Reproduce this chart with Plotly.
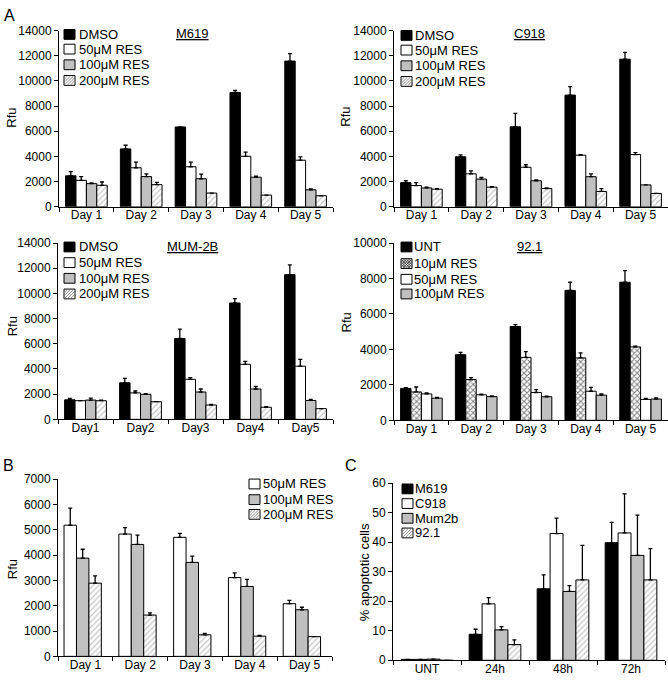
import plotly.graph_objects as go

W, H = 668, 681

# ---------------- data ----------------
days = ["Day 1", "Day 2", "Day 3", "Day 4", "Day 5"]
days_ns = ["Day1", "Day2", "Day3", "Day4", "Day5"]
times = ["UNT", "24h", "48h", "72h"]

# M619
m619_dmso = [2460, 4600, 6340, 9080, 11570]
m619_dmso_err = [340, 290, 0, 160, 590]
m619_50 = [2100, 3100, 3180, 4010, 3700]
m619_50_err = [300, 450, 370, 340, 260]
m619_100 = [1840, 2400, 2230, 2350, 1350]
m619_100_err = [50, 210, 360, 80, 70]
m619_200 = [1710, 1760, 1090, 930, 880]
m619_200_err = [260, 180, 0, 0, 0]

# C918
c918_dmso = [1920, 3970, 6350, 8870, 11720]
c918_dmso_err = [150, 150, 1070, 670, 540]
c918_50 = [1690, 2620, 3140, 4100, 4150]
c918_50_err = [230, 230, 200, 50, 150]
c918_100 = [1500, 2200, 2070, 2390, 1740]
c918_100_err = [60, 130, 60, 230, 0]
c918_200 = [1400, 1560, 1450, 1220, 1060]
c918_200_err = [50, 50, 50, 230, 0]

# MUM-2B
mum_dmso = [1550, 2900, 6420, 9240, 11490]
mum_dmso_err = [110, 360, 750, 340, 780]
mum_50 = [1480, 2100, 3180, 4370, 4220]
mum_50_err = [0, 150, 130, 240, 540]
mum_100 = [1530, 1990, 2170, 2410, 1500]
mum_100_err = [150, 50, 240, 200, 80]
mum_200 = [1480, 1400, 1140, 960, 850]
mum_200_err = [50, 0, 50, 50, 0]

# 92.1
n92_unt = [1800, 3700, 5290, 7330, 7790]
n92_unt_err = [40, 130, 110, 460, 660]
n92_10 = [1600, 2300, 3550, 3520, 4140]
n92_10_err = [280, 110, 320, 290, 40]
n92_50 = [1490, 1440, 1570, 1640, 1180]
n92_50_err = [60, 30, 160, 220, 50]
n92_100 = [1250, 1340, 1330, 1420, 1200]
n92_100_err = [40, 40, 30, 70, 70]

# Panel B
b_50 = [5180, 4830, 4700, 3110, 2080]
b_50_err = [670, 250, 160, 190, 130]
b_100 = [3880, 4420, 3710, 2760, 1840]
b_100_err = [350, 370, 250, 280, 100]
b_200 = [2890, 1630, 850, 800, 780]
b_200_err = [290, 90, 60, 30, 0]

# Panel C (% apoptotic cells)
c_m619 = [0.3, 8.8, 24.2, 39.8]
c_m619_err = [0, 1.7, 4.7, 6.9]
c_c918 = [0.3, 19.1, 42.9, 43.1]
c_c918_err = [0, 2.1, 5.2, 13.2]
c_mum2b = [0.4, 10.3, 23.3, 35.5]
c_mum2b_err = [0, 1.1, 2.0, 13.6]
c_921 = [0.0, 5.3, 27.2, 27.2]
c_921_err = [0, 1.6, 11.7, 10.6]

# ---------------- styles ----------------
FONT = "Liberation Sans, Arial, sans-serif"
GRAY = "#c0c0c0"
STYLES = {
    "black": dict(color="black"),
    "white": dict(color="white"),
    "gray": dict(color=GRAY),
    "hatch": dict(color="white", pattern=dict(shape="/", fgcolor="#7a7a7a", bgcolor="white", size=4, solidity=0.28)),
    "cross": dict(color="white", pattern=dict(shape="x", fgcolor="black", bgcolor="white", size=4, solidity=0.45)),
}


def px(x):
    return x / W


def py(y):
    return 1 - y / H


fig = go.Figure()
shapes = []
annos = []


def add_panel(idx, cats, series, xdom, ydom, yrange, dtick, width, offsets, shift=0.0):
    xa = "x" if idx == 1 else f"x{idx}"
    ya = "y" if idx == 1 else f"y{idx}"
    for (vals, errs, style), off in zip(series, offsets):
        m = dict(STYLES[style])
        m["line"] = dict(color="black", width=1)
        fig.add_trace(go.Bar(
            x=cats, y=vals, xaxis=xa, yaxis=ya,
            width=width, offset=off + shift,
            marker=m, showlegend=False,
            error_y=dict(type="data", array=errs, arrayminus=[0] * len(errs), symmetric=False,
                         color="black", thickness=1.3, width=2),
        ))
    axkey_x = "xaxis" if idx == 1 else f"xaxis{idx}"
    axkey_y = "yaxis" if idx == 1 else f"yaxis{idx}"
    fig.update_layout(**{
        axkey_x: dict(domain=[px(xdom[0]), px(xdom[1])], anchor=ya, type="category",
                      showline=True, linecolor="black", linewidth=1, ticks="outside",
                      tickson="boundaries", ticklen=4, tickcolor="black", showgrid=False,
                      ticklabelstandoff=-3,
                      tickfont=dict(family=FONT, size=12, color="black"), fixedrange=True),
        axkey_y: dict(domain=[py(ydom[1]), py(ydom[0])], anchor=xa, range=yrange, dtick=dtick,
                      tickformat="d",
                      showline=True, linecolor="black", linewidth=1, ticks="outside",
                      ticklen=4, tickcolor="black", showgrid=False, zeroline=False,
                      tickfont=dict(family=FONT, size=12, color="black"), fixedrange=True),
    })


W4 = 0.19
OFF4 = [-0.38, -0.19, 0.0, 0.19]

add_panel(1, days, [(m619_dmso, m619_dmso_err, "black"), (m619_50, m619_50_err, "white"),
                    (m619_100, m619_100_err, "gray"), (m619_200, m619_200_err, "hatch")],
          (59, 333), (24, 204), [0, 14000], 2000, W4, OFF4)
add_panel(2, days, [(c918_dmso, c918_dmso_err, "black"), (c918_50, c918_50_err, "white"),
                    (c918_100, c918_100_err, "gray"), (c918_200, c918_200_err, "hatch")],
          (394, 668), (24, 204), [0, 14000], 2000, W4, OFF4)
add_panel(3, days_ns, [(mum_dmso, mum_dmso_err, "black"), (mum_50, mum_50_err, "white"),
                       (mum_100, mum_100_err, "gray"), (mum_200, mum_200_err, "hatch")],
          (58, 333), (241, 421), [0, 14000], 2000, W4, OFF4)
add_panel(4, days, [(n92_unt, n92_unt_err, "black"), (n92_10, n92_10_err, "cross"),
                    (n92_50, n92_50_err, "white"), (n92_100, n92_100_err, "gray")],
          (394, 668), (241, 422), [0, 10000], 2000, W4, OFF4)
add_panel(5, days, [(b_50, b_50_err, "white"), (b_100, b_100_err, "gray"), (b_200, b_200_err, "hatch")],
          (58, 332), (482, 663), [0, 7000], 1000, 0.227, [-0.39, -0.163, 0.064])
add_panel(6, times, [(c_m619, c_m619_err, "black"), (c_c918, c_c918_err, "white"),
                     (c_mum2b, c_mum2b_err, "gray"), (c_921, c_921_err, "hatch")],
          (393, 665), (486, 667), [0, 60], 10, W4, OFF4)


# ---------------- manual legends ----------------
def diag_lines(x0, y0, x1, y1, step, direction, color, width):
    # x0,y0 top-left ; x1,y1 bottom-right in pixels
    w = x1 - x0
    h = y1 - y0
    c = -h
    out = []
    while c < w:
        us = max(0.0, c)
        ue = min(w, h + c)
        if ue > us:
            pa = (us, us - c)
            pb = (ue, ue - c)
            if direction == "/":
                xa_, ya_ = x0 + pa[0], y1 - pa[1]
                xb_, yb_ = x0 + pb[0], y1 - pb[1]
            else:
                xa_, ya_ = x1 - pa[0], y1 - pa[1]
                xb_, yb_ = x1 - pb[0], y1 - pb[1]
            out.append(dict(type="line", xref="paper", yref="paper",
                            x0=px(xa_), y0=py(ya_), x1=px(xb_), y1=py(yb_),
                            line=dict(color=color, width=width)))
        c += step
    return out


def legend(items, sx, tx, rows, sw=11, sh=10):
    for (label, style), ry in zip(items, rows):
        x0, x1 = sx, sx + sw
        y0, y1 = ry - sh / 2, ry + sh / 2
        fill = {"black": "black", "white": "white", "gray": GRAY, "hatch": "white", "cross": "white"}[style]
        shapes.append(dict(type="rect", xref="paper", yref="paper",
                           x0=px(x0), x1=px(x1), y0=py(y1), y1=py(y0),
                           fillcolor=fill, line=dict(color="black", width=1)))
        if style == "hatch":
            shapes.extend(diag_lines(x0 + 0.5, y0 + 0.5, x1 - 0.5, y1 - 0.5, 3, "/", "#7a7a7a", 0.8))
        if style == "cross":
            shapes.extend(diag_lines(x0 + 0.5, y0 + 0.5, x1 - 0.5, y1 - 0.5, 2.6, "/", "#222", 0.8))
            shapes.extend(diag_lines(x0 + 0.5, y0 + 0.5, x1 - 0.5, y1 - 0.5, 2.6, "\\", "#222", 0.8))
        annos.append(dict(text=label, xref="paper", yref="paper", x=px(tx), y=py(ry),
                          xanchor="left", yanchor="middle", showarrow=False,
                          font=dict(family=FONT, size=13, color="black")))


res_items = [("DMSO", "black"), ("50μM RES", "white"), ("100μM RES", "gray"), ("200μM RES", "hatch")]
legend(res_items, 64, 77, [28, 43, 59, 75])
legend(res_items, 401, 413, [29, 44, 60, 76])
legend(res_items, 64, 77, [245, 261, 277, 293])
legend([("UNT", "black"), ("10μM RES", "cross"), ("50μM RES", "white"), ("100μM RES", "gray")],
       401, 412, [245, 262, 278, 293])
legend([("50μM RES", "white"), ("100μM RES", "gray"), ("200μM RES", "hatch")], 249, 261, [487, 503, 518])
legend([("M619", "black"), ("C918", "white"), ("Mum2b", "gray"), ("92.1", "hatch")], 402, 413,
       [492, 507, 522, 537])


# ---------------- titles & labels ----------------
def text(t, x, y, size=13, angle=0, xanchor="center"):
    annos.append(dict(text=t, xref="paper", yref="paper", x=px(x), y=py(y), xanchor=xanchor,
                      yanchor="middle", showarrow=False, textangle=angle,
                      font=dict(family=FONT, size=size, color="black")))


text("<u>M619</u>", 192, 27)
text("<u>C918</u>", 529, 27)
text("<u>MUM-2B</u>", 192, 245)
text("<u>92.1</u>", 529, 245)

text("Rfu", 12, 113, angle=-90)
text("Rfu", 346, 112, angle=-90)
text("Rfu", 12, 326, angle=-90)
text("Rfu", 346, 322, angle=-90)
text("Rfu", 12, 574, angle=-90)
text("% apoptotic cells", 364, 577, angle=-90)

text("A", 9, 9, size=16)
text("B", 8, 468, size=16)
text("C", 351, 468, size=16)

fig.update_layout(
    width=W, height=H, margin=dict(l=0, r=0, t=0, b=0),
    paper_bgcolor="white", plot_bgcolor="white",
    barmode="overlay", showlegend=False,
    shapes=shapes, annotations=annos,
    font=dict(family=FONT, color="black"),
)

fig.write_html("out.html", config={"displayModeBar": False},
               post_script="document.body.style.margin='0';document.body.style.overflow='hidden';")
